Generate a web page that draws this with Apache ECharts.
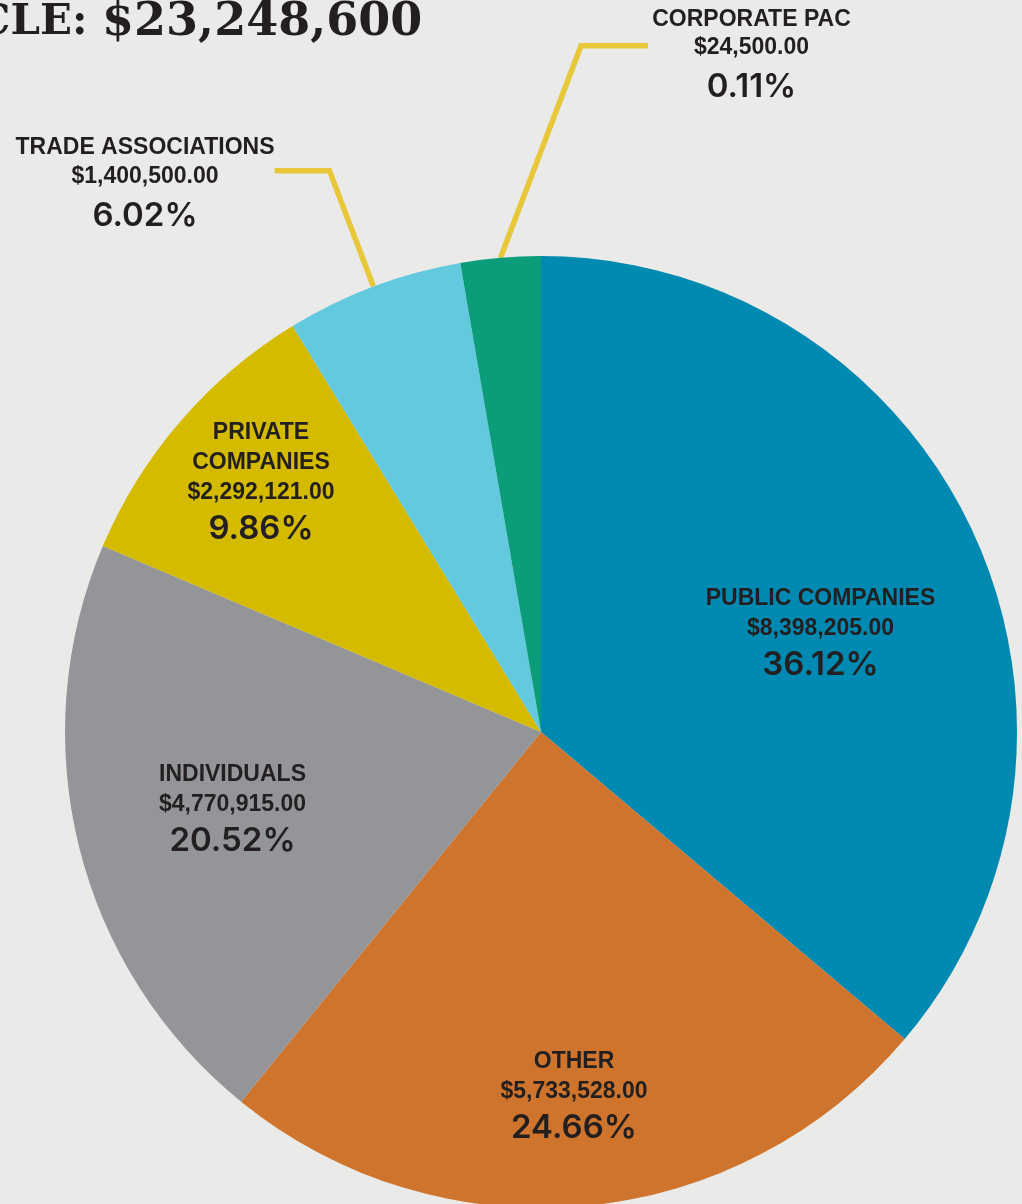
<!DOCTYPE html>
<html>
<head>
<meta charset="utf-8">
<script src="https://cdn.jsdelivr.net/npm/echarts@6/dist/echarts.min.js"></script>
<style>
  html, body { margin: 0; padding: 0; background: #EAEAE8; }
  #chart { width: 1022px; height: 1204px; }
</style>
</head>
<body>
<div id="chart"></div>
<script>
// ---- data ----
const categories = ['PUBLIC COMPANIES', 'OTHER', 'INDIVIDUALS', 'PRIVATE\nCOMPANIES', 'TRADE ASSOCIATIONS', 'CORPORATE PAC'];
const amounts = [8398205, 5733528, 4770915, 2292121, 1400500, 24500];
const percentLabels = [36.12, 24.66, 20.52, 9.86, 6.02, 0.11];
// share of the circle each wedge occupies in the picture (the Corporate PAC wedge is drawn at about 2.7%)
const sliceShares = [36.12, 24.66, 20.52, 9.86, 6.02, 2.71];
const titlePrefix = 'CLE: ';
const titleTotal = '$23,248,600';

// ---- styling / layout ----
const colors = ['#0089B1', '#CE742C', '#939598', '#D4BB00', '#63C9DF', '#0B9C79'];
const textColor = '#231F20';
const leaderColor = '#E8C83A';
const labelSpots = [
  { x: 820.5, y: 634.7 },
  { x: 574, y: 1097.6 },
  { x: 232.5, y: 810.6 },
  { x: 261, y: 483.6 },
  { x: 145, y: 170.7 },
  { x: 751.5, y: 45.7 }
];
const outsideCfg = {
  4: { width: 196.6, padTop: 33, length2: 55, lineWidth: 5.5 },
  5: { width: 207, padTop: 26.4, length2: 67, lineWidth: 5.5 }
};

function fmtMoney(v) {
  const s = v.toFixed(2);
  const parts = s.split('.');
  return '$' + parts[0].replace(/\B(?=(\d{3})+(?!\d))/g, ',') + '.' + parts[1];
}

const nameFont = 'Liberation Sans';
const pctFont = 'Inter';
const insideRich = {
  n: { fontFamily: nameFont, fontWeight: 'bold', fontSize: 23, lineHeight: 30, color: textColor },
  a: { fontFamily: nameFont, fontWeight: 'bold', fontSize: 23, lineHeight: 30, color: textColor },
  p: { fontFamily: pctFont, fontWeight: 600, fontSize: 33, lineHeight: 42, color: textColor }
};
const outsideRich = {
  n: { fontFamily: nameFont, fontWeight: 'bold', fontSize: 23, lineHeight: 28.5, color: textColor },
  a: { fontFamily: nameFont, fontWeight: 'bold', fontSize: 23, lineHeight: 28.5, color: textColor },
  p: { fontFamily: pctFont, fontWeight: 600, fontSize: 33, lineHeight: 50, color: textColor }
};

function labelText(i) {
  const nameLines = categories[i].split('\n').map(s => '{n|' + s + '}');
  return nameLines.concat(['{a|' + fmtMoney(amounts[i]) + '}', '{p|' + percentLabels[i].toFixed(2) + '%}']).join('\n');
}

const chart = echarts.init(document.getElementById('chart'), null, { renderer: 'canvas' });

const seriesData = categories.map((c, i) => {
  const item = { name: c, value: sliceShares[i], itemStyle: { color: colors[i] } };
  const oc = outsideCfg[i];
  if (oc) {
    item.label = {
      position: 'outside',
      rich: outsideRich,
      width: oc.width,
      padding: [oc.padTop, 0, 0, 0],
      backgroundColor: 'rgba(0,0,0,0)'
    };
    item.labelLine = {
      show: true,
      length: 20,
      length2: oc.length2,
      smooth: false,
      minTurnAngle: 60,
      lineStyle: { color: leaderColor, width: oc.lineWidth, cap: 'butt', join: 'miter' }
    };
  }
  return item;
});

chart.setOption({
  backgroundColor: '#EAEAE8',
  animation: false,
  graphic: [{
    type: 'text',
    x: -23,
    y: 23,
    silent: true,
    style: {
      text: '{a|' + titlePrefix + '}{b|' + titleTotal + '}',
      textVerticalAlign: 'middle',
      fontFamily: 'DejaVu Serif',
      fontWeight: 'bold',
      fontSize: 42,
      fill: textColor,
      rich: {
        a: { fontFamily: 'DejaVu Serif', fontWeight: 'bold', fontSize: 42, fill: textColor },
        b: { fontFamily: 'DejaVu Serif', fontWeight: 'bold', fontSize: 46, fill: textColor }
      }
    }
  }],
  series: [{
    type: 'pie',
    center: [541, 732],
    radius: 476,
    startAngle: 90,
    clockwise: true,
    avoidLabelOverlap: false,
    silent: true,
    itemStyle: { borderWidth: 0 },
    label: {
      show: true,
      position: 'inside',
      formatter: p => labelText(p.dataIndex),
      rich: insideRich,
      width: 260,
      overflow: 'none',
      align: 'center',
      color: textColor
    },
    labelLine: { show: false, lineStyle: { color: leaderColor, width: 5.5 } },
    labelLayout: function (params) {
      const s = labelSpots[params.dataIndex];
      return { x: s.x, y: s.y, align: 'center', verticalAlign: 'middle' };
    },
    emphasis: { disabled: true },
    data: seriesData
  }]
});
</script>
</body>
</html>
